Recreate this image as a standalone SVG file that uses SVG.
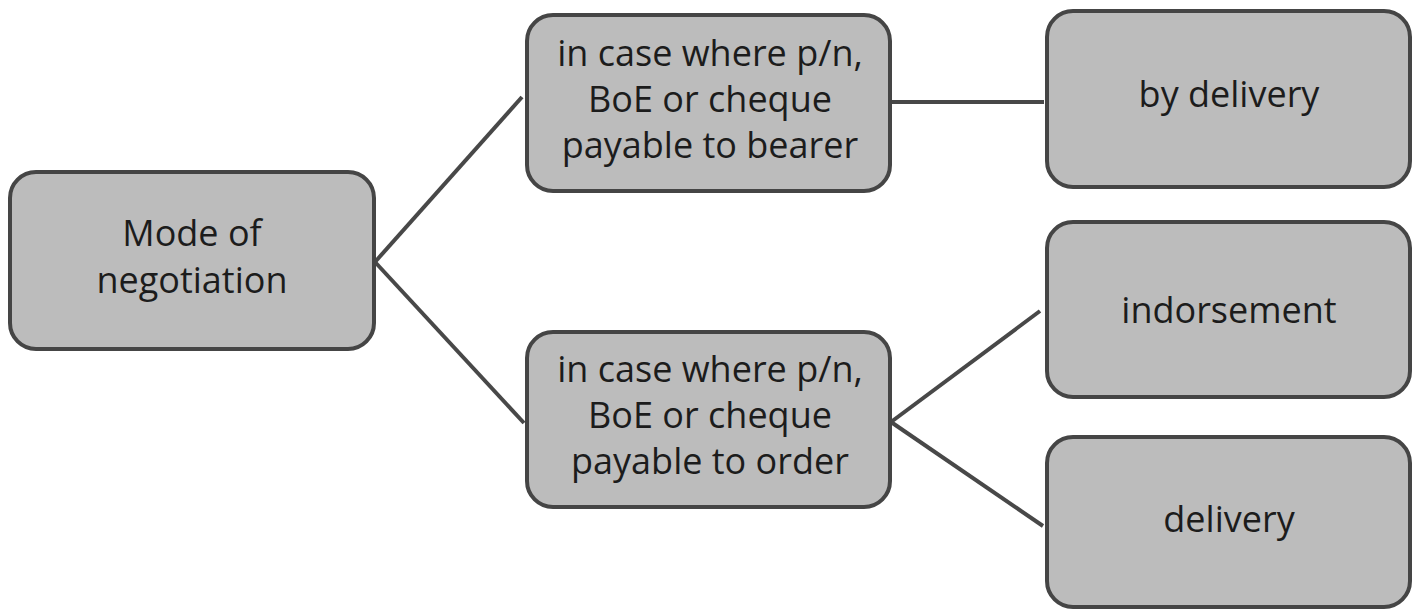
<svg xmlns="http://www.w3.org/2000/svg" width="1419" height="610" viewBox="0 0 1419 610">
<style>
.box{fill:#bcbcbc;stroke:#454545;stroke-width:4}
.lbl{font-family:"Open Sans","Noto Sans","Liberation Sans",sans-serif;font-size:36px;fill:#1c1c1c;text-anchor:middle}
.conn{stroke:#484848;stroke-width:4;fill:none}
</style>
<rect width="1419" height="610" fill="#ffffff"/>
<g id="connectors">
<line class="conn" x1="375" y1="262" x2="522" y2="97"/>
<line class="conn" x1="375" y1="262" x2="524" y2="423"/>
<line class="conn" x1="891" y1="102" x2="1044" y2="102"/>
<line class="conn" x1="891" y1="422" x2="1040" y2="311"/>
<line class="conn" x1="891" y1="422" x2="1043" y2="526"/>
</g>
<g id="node-mode">
<rect class="box" x="10" y="172" width="364" height="177" rx="26"/>
<text class="lbl" x="192" y="246">Mode of</text>
<text class="lbl" x="192" y="293">negotiation</text>
</g>
<g id="node-bearer">
<rect class="box" x="527" y="15" width="363" height="176" rx="26"/>
<text class="lbl" x="710" y="66">in case where p/n,</text>
<text class="lbl" x="710" y="112">BoE or cheque</text>
<text class="lbl" x="710" y="158">payable to bearer</text>
</g>
<g id="node-order">
<rect class="box" x="527" y="332" width="363" height="175" rx="26"/>
<text class="lbl" x="710" y="382">in case where p/n,</text>
<text class="lbl" x="710" y="428">BoE or cheque</text>
<text class="lbl" x="710" y="474">payable to order</text>
</g>
<g id="node-by-delivery">
<rect class="box" x="1047" y="11" width="363" height="176" rx="26"/>
<text class="lbl" x="1229" y="107">by delivery</text>
</g>
<g id="node-indorsement">
<rect class="box" x="1047" y="222" width="363" height="175" rx="26"/>
<text class="lbl" x="1229" y="323">indorsement</text>
</g>
<g id="node-delivery">
<rect class="box" x="1047" y="437" width="363" height="170" rx="26"/>
<text class="lbl" x="1229" y="532">delivery</text>
</g>
</svg>
